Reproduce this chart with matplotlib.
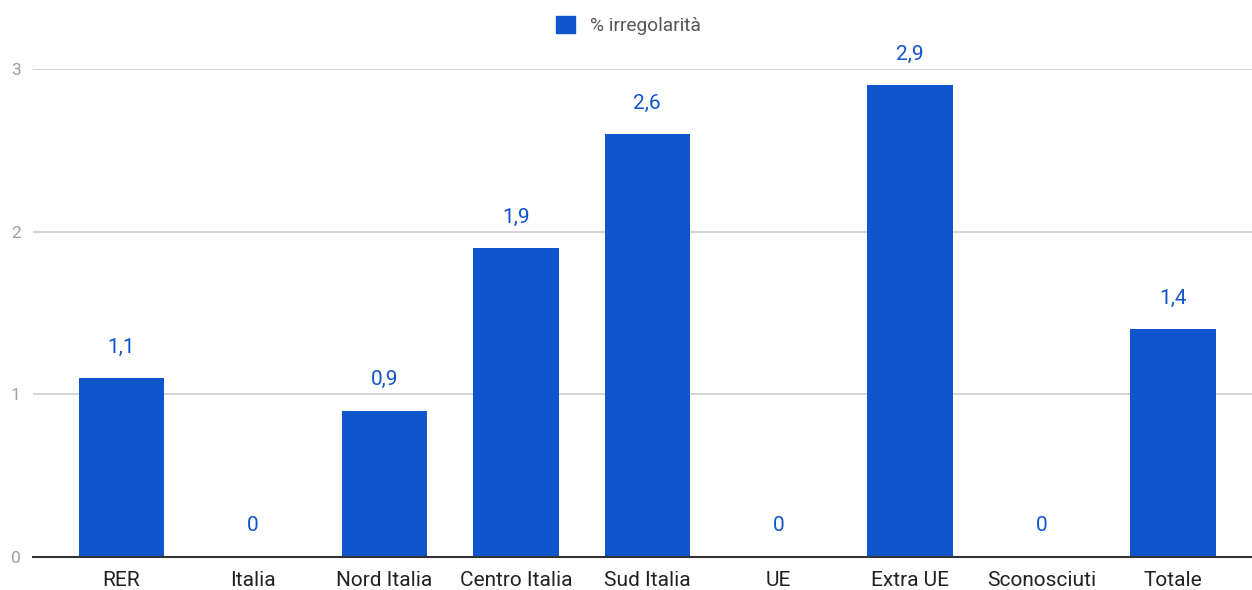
import matplotlib.pyplot as plt
from matplotlib.patches import Patch

plt.rcParams['font.family'] = ['Roboto', 'DejaVu Sans']

categories = ['RER', 'Italia', 'Nord Italia', 'Centro Italia', 'Sud Italia',
              'UE', 'Extra UE', 'Sconosciuti', 'Totale']
values = [1.1, 0, 0.9, 1.9, 2.6, 0, 2.9, 0, 1.4]
series_name = '% irregolarità'
bar_color = '#1155cc'

fig = plt.figure(figsize=(12.52, 5.90), dpi=100)
ax = fig.add_axes([33 / 1252, 33 / 590, 1 - 33 / 1252, (557 - 69) / 590])

x = list(range(len(categories)))
ax.bar(x, values, width=0.65, color=bar_color, zorder=3)

for i, v in zip(x, values):
    label = ('%g' % v).replace('.', ',')
    ax.annotate(label, (i, v), xytext=(0, 15.5), textcoords='offset points',
                ha='center', va='bottom', color=bar_color, fontsize=15,
                annotation_clip=False)

ax.set_xlim(-0.673, 8.6)
ax.set_ylim(0, 3)
ax.set_yticks([0, 1, 2, 3])
ax.set_xticks(x)
ax.set_xticklabels(categories, fontsize=15, color='#222222')
ax.tick_params(axis='x', length=0, pad=10)
ax.tick_params(axis='y', length=0, pad=9, labelsize=12.5, labelcolor='#9e9e9e')

ax.grid(axis='y', color='#cccccc', linewidth=1.2, zorder=0)
for s in ['top', 'right', 'left']:
    ax.spines[s].set_visible(False)
ax.spines['bottom'].set_color('#333333')
ax.spines['bottom'].set_linewidth(1.5)
ax.spines['bottom'].set_zorder(4)

handle = Patch(facecolor=bar_color, edgecolor=bar_color)
fig.legend([handle], [series_name], loc='center', bbox_to_anchor=(0.502, 0.957),
           frameon=False, fontsize=13.8, labelcolor='#555555',
           handlelength=1.0, handleheight=1.0, handletextpad=0.8)

fig.savefig('out.png', dpi=100)
